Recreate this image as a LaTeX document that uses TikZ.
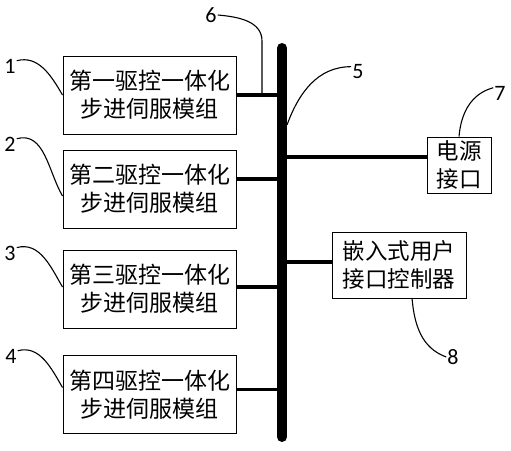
\documentclass[tikz,border=0pt]{standalone}
\usepackage{fontspec}
\newfontfamily\cjk{Noto Sans CJK SC}
\newfontfamily\numfont{Carlito}
\begin{document}
\begin{tikzpicture}[
            x=1pt, y=1pt,
            module/.style={draw, line width=1pt, minimum width=173pt, minimum height=78pt, inner sep=0pt, align=center, font=\cjk\fontsize{23}{28}\selectfont},
            unit/.style={draw, line width=1pt, inner sep=0pt, align=center, font=\cjk\fontsize{22.5}{28}\selectfont},
            tag/.style={font=\numfont\fontsize{22}{22}\selectfont, inner sep=1pt},
            lead/.style={line width=1.1pt},
            link/.style={line width=3.5pt}
            ]
            \useasboundingbox (0,0) rectangle (511,-450);
            % bus
            \coordinate (bustop) at (282,-48);
            \coordinate (busbot) at (282,-437);
            \draw[line width=10pt, line cap=round] (bustop) -- (busbot);
            % modules
            \node[module] (m1) at (149.5,-95) {第一驱控一体化\\步进伺服模组};
            \node[module] (m2) at (149.5,-189) {第二驱控一体化\\步进伺服模组};
            \node[module] (m3) at (149.5,-289) {第三驱控一体化\\步进伺服模组};
            \node[module] (m4) at (149.5,-394.5) {第四驱控一体化\\步进伺服模组};
            \node[unit, minimum width=64pt, minimum height=56pt] (pw) at (459,-165) {电源\\接口};
            \node[unit, minimum width=134pt, minimum height=66pt] (ctl) at (399,-265) {嵌入式用户\\接口控制器};
            % links to the bus
            \draw[link] (m1.east) -- (m1.east -| bustop);
            \draw[link] ([yshift=10pt]m2.east) -- ([yshift=10pt]m2.east -| bustop);
            \draw[link] ([yshift=2pt]m3.east) -- ([yshift=2pt]m3.east -| bustop);
            \draw[link] ([yshift=5pt]m4.east) -- ([yshift=5pt]m4.east -| bustop);
            \draw[link] ([yshift=8pt]pw.west -| bustop) -- ([yshift=8pt]pw.west);
            \draw[link] ([yshift=3pt]ctl.west -| bustop) -- ([yshift=3pt]ctl.west);
            % labels
            \node[tag] (l1) at (10,-66) {1};
            \node[tag] (l2) at (10,-144) {2};
            \node[tag] (l3) at (10,-253) {3};
            \node[tag] (l4) at (11,-356) {4};
            \node[tag] (l5) at (358,-72) {5};
            \node[tag] (l6) at (211,-15) {6};
            \node[tag] (l7) at (500,-93) {7};
            \node[tag] (l8) at (453,-357) {8};
            \coordinate (p5) at (287,-125);
            \coordinate (p6) at (262,-96);
            \coordinate (p8) at (412,-298);
            \draw[lead] ([yshift=-3pt]l1.north east) to[out=15,in=120] (m1.west);
            \draw[lead] ([yshift=-3pt]l2.north east) to[out=15,in=120] ([yshift=-7pt]m2.west);
            \draw[lead] ([yshift=-3pt]l3.north east) to[out=15,in=120] ([yshift=2pt]m3.west);
            \draw[lead] ([yshift=-3pt]l4.north east) to[out=15,in=120] ([yshift=7pt]m4.west);
            \draw[lead] ([yshift=-3pt]l5.north west) to[out=180,in=70] (p5);
            \draw[lead] (l6.east) to[out=-5,in=90] ([yshift=55pt]p6) -- (p6);
            \draw[lead] ([yshift=-3pt]l7.north west) to[out=195,in=85] (pw.north);
            \draw[lead] (l8.west) to[out=160,in=-85] (p8);
\end{tikzpicture}
\end{document}
